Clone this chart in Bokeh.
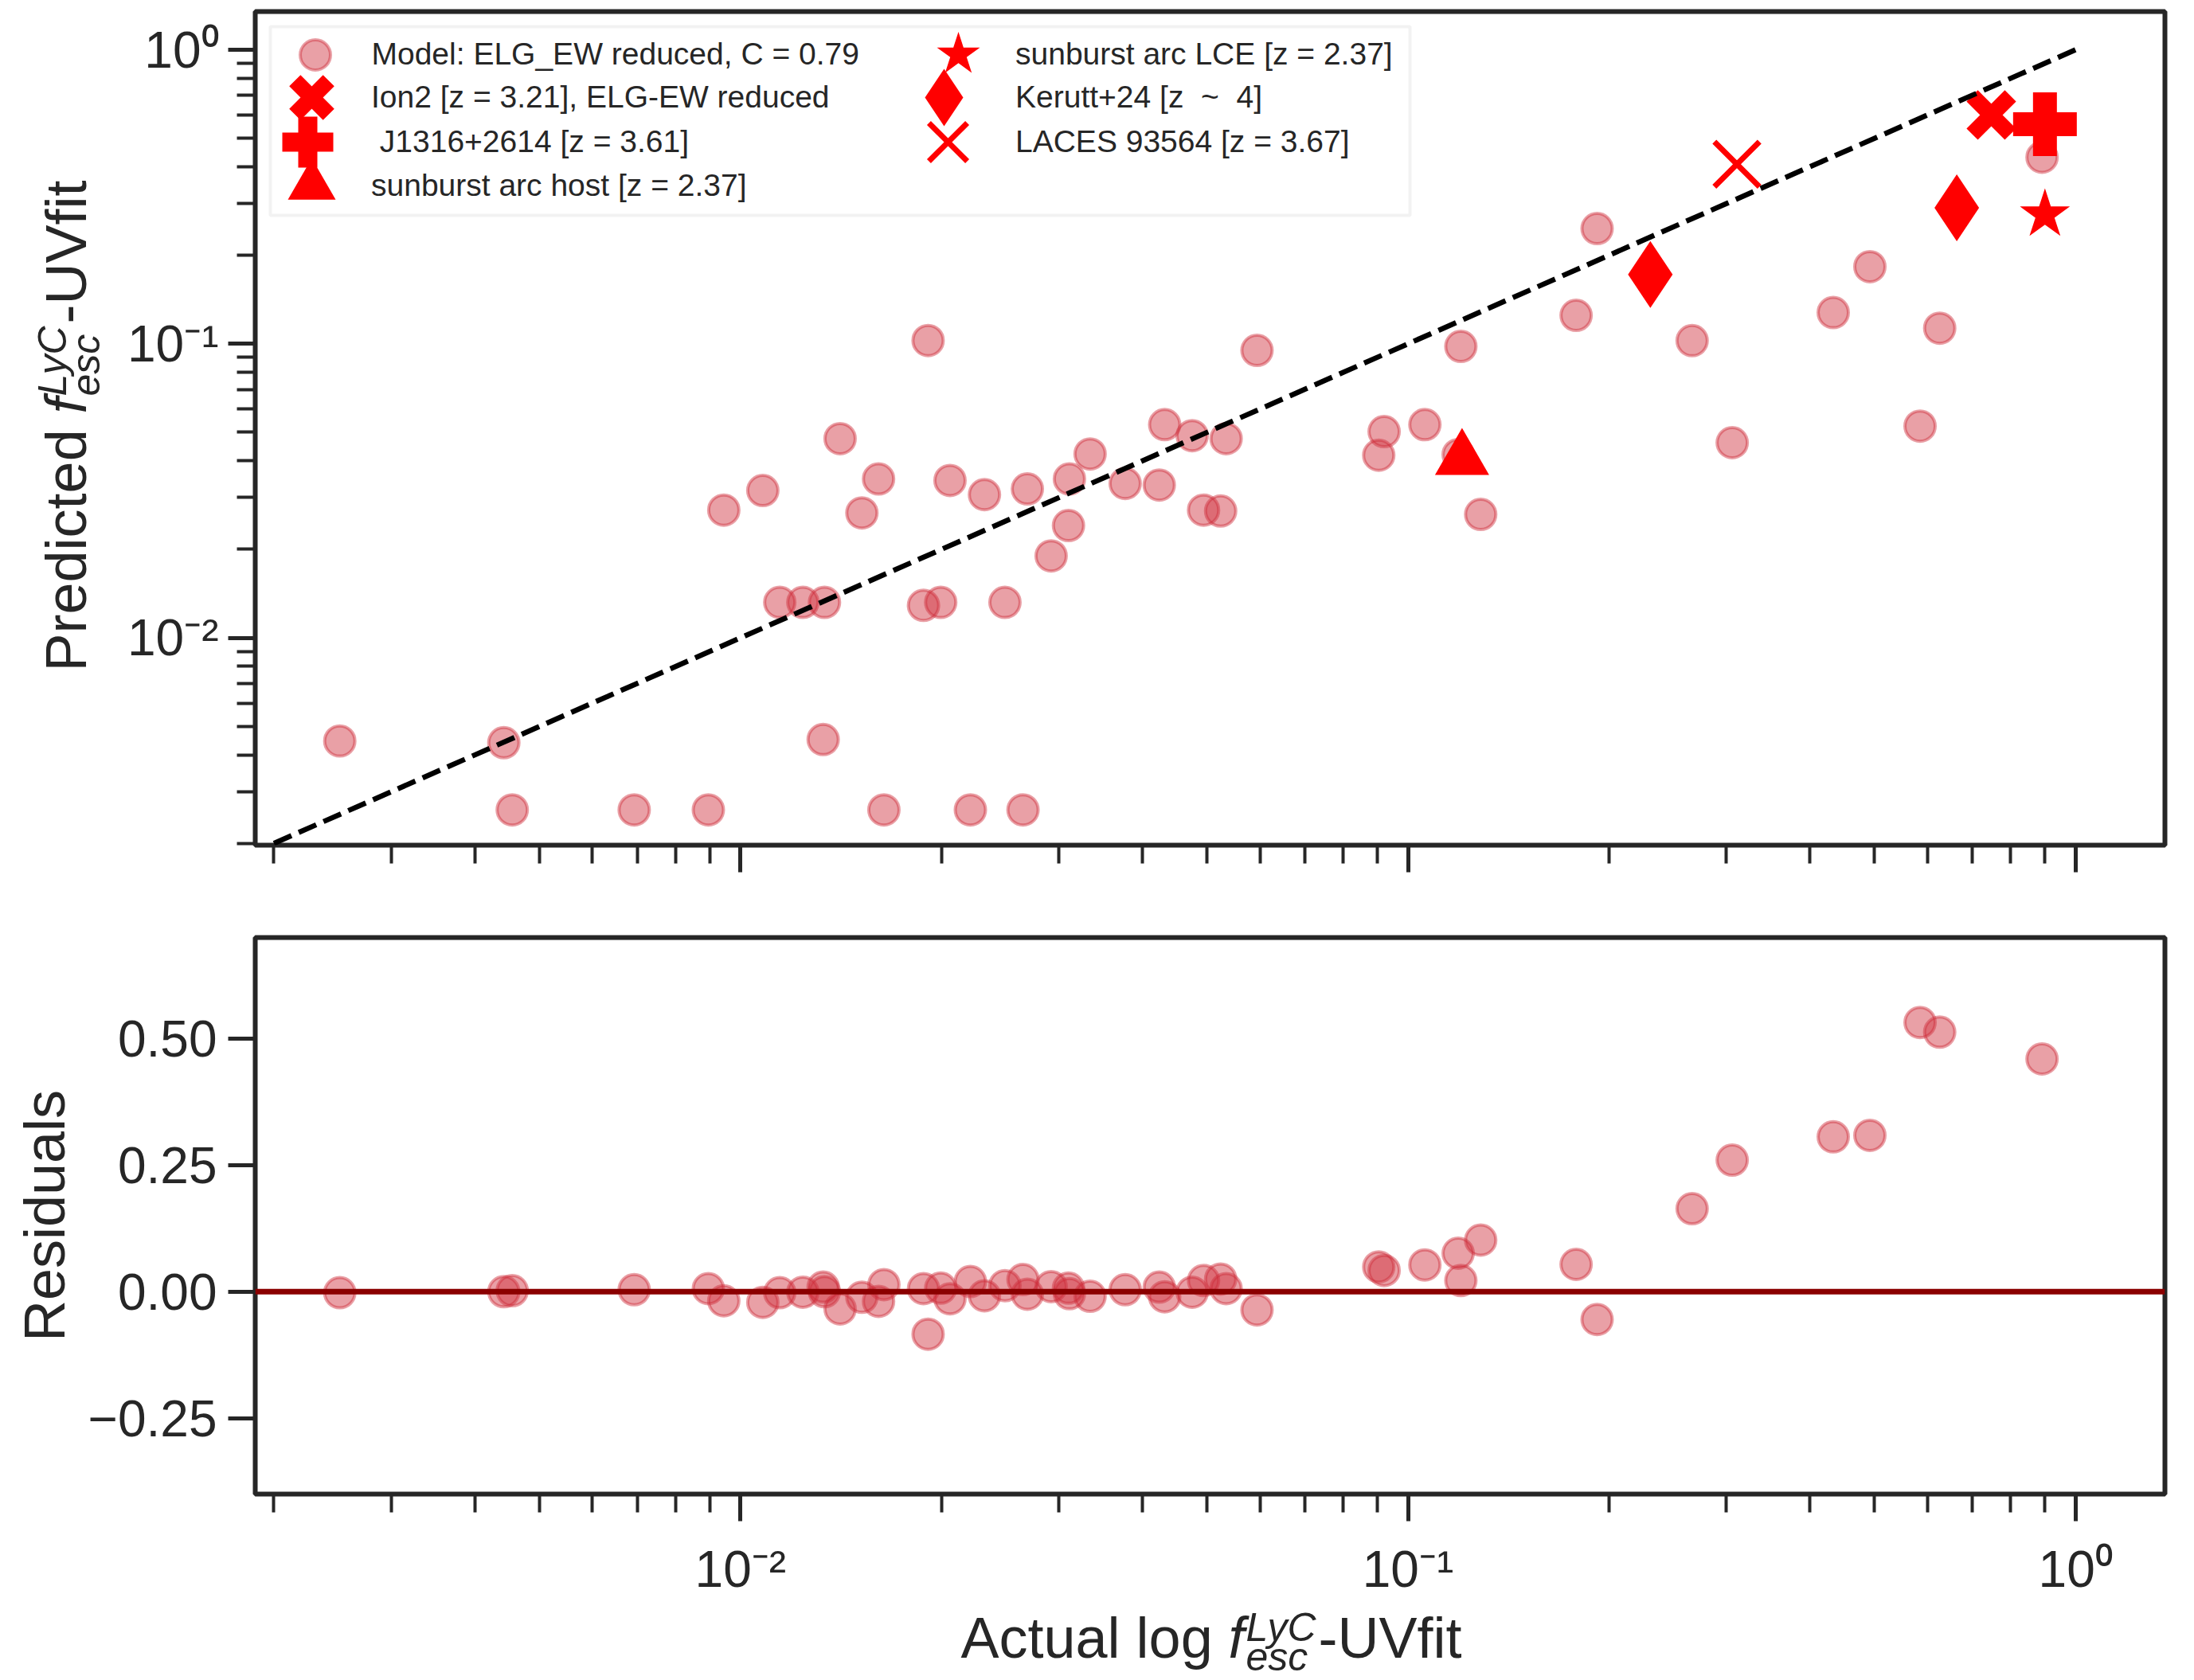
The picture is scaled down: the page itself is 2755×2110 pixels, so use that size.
import math
from bokeh.plotting import figure
from bokeh.layouts import column, row
from bokeh.core.properties import value
from bokeh.models import (Range1d, FixedTicker, CustomJSTickFormatter, Legend, LegendItem,
                          Span, ColumnDataSource, BoxAnnotation)
from bokeh.embed import file_html
from bokeh.resources import INLINE

# ---------------- data ----------------
actual = [0.00251, 0.00442, 0.00455, 0.00693, 0.00895, 0.00944, 0.0108, 0.01145, 0.0124, 0.01336,
          0.0133, 0.0141, 0.0152, 0.0161, 0.0164, 0.0188, 0.0191, 0.01995, 0.0206, 0.0221,
          0.0232, 0.0249, 0.0265, 0.0269, 0.0292, 0.0310, 0.0311, 0.0334, 0.0377, 0.0424,
          0.0432, 0.0475, 0.0494, 0.0524, 0.0534, 0.0594, 0.0904, 0.0921, 0.106, 0.1189,
          0.120, 0.1285, 0.1786, 0.192, 0.2665, 0.306, 0.4336, 0.492, 0.585, 0.626, 0.891]
predicted = [0.00446, 0.0044, 0.0026, 0.0026, 0.0026, 0.0272, 0.0317, 0.0132, 0.0132, 0.0132,
             0.00451, 0.0476, 0.0266, 0.0347, 0.0026, 0.0129, 0.1026, 0.0132, 0.0343, 0.0026,
             0.0307, 0.0132, 0.0026, 0.0321, 0.0190, 0.0241, 0.0347, 0.0422, 0.0335, 0.0331,
             0.0531, 0.0487, 0.0272, 0.0270, 0.0476, 0.095, 0.0418, 0.0503, 0.0531, 0.042,
             0.098, 0.0263, 0.125, 0.2466, 0.1025, 0.0461, 0.1277, 0.183, 0.0525, 0.113, 0.431]
residuals = [-0.002, 0.000, 0.002, 0.004, 0.006, -0.018, -0.021, -0.002, -0.001, 0.000,
             0.009, -0.034, -0.011, -0.019, 0.014, 0.006, -0.084, 0.007, -0.014, 0.020,
             -0.008, 0.012, 0.024, -0.005, 0.010, 0.007, -0.004, -0.009, 0.004, 0.009,
             -0.010, -0.001, 0.022, 0.025, 0.006, -0.036, 0.049, 0.042, 0.053, 0.076,
             0.022, 0.102, 0.054, -0.055, 0.164, 0.260, 0.306, 0.309, 0.532, 0.513, 0.460]

ion2_x, ion2_y = [0.748], [0.600]
j1316_x, j1316_y = [0.900], [0.558]
host_x, host_y = [0.1205], [0.0405]
lce_x, lce_y = [0.900], [0.275]
kerutt_x, kerutt_y = [0.2307, 0.664], [0.172, 0.290]
laces_x, laces_y = [0.311], [0.408]
one_to_one = [0.002, 1.0]

legend_labels = ["Model: ELG_EW reduced, C = 0.79",
                 "Ion2 [z = 3.21], ELG-EW reduced",
                 " J1316+2614 [z = 3.61]",
                 "sunburst arc host [z = 2.37]",
                 "sunburst arc LCE [z = 2.37]",
                 "Kerutt+24 [z  ~  4]",
                 "LACES 93564 [z = 3.67]"]
major_log_ticks = [0.01, 0.1, 1.0]
minor_log_ticks = [m * 10.0 ** e for e in (-3, -2, -1) for m in range(2, 10)]
resid_ticks = [-0.25, 0.0, 0.25, 0.5]

# ---------------- style ----------------
INK = "#262626"
FONT = "Liberation Sans"
PINK = "#CE2C39"
RED = "#FF0000"

LOGFMT = CustomJSTickFormatter(code="""
const e = Math.round(Math.log10(tick));
const m = {"-": "⁻", "0": "⁰", "1": "¹", "2": "²", "3": "³", "4": "⁴",
           "5": "⁵", "6": "⁶", "7": "⁷", "8": "⁸", "9": "⁹"};
return "10" + String(e).split("").map((c) => m[c]).join("");
""")
EMPTYFMT = CustomJSTickFormatter(code="return '';")
RESFMT = CustomJSTickFormatter(code="""
return (tick < 0 ? "−" : "") + Math.abs(tick).toFixed(2);
""")

PAGE_W, PAGE_H = 2755, 2110
FRAME_L, FRAME_W, FRAME_R_BORDER = 320, 2398, 37
TOP_H, TOP_FRAME_T, TOP_FRAME_H = 1120, 14, 1047
YLAB_W = 140
BOT_TOP, BOT_FRAME_H, BOT_BOTTOM = 57, 699, 140
MID = 0.35   # text anchor sits this many em above the baseline


def style(p):
    p.grid.visible = False
    p.background_fill_color = "white"
    p.border_fill_color = "white"
    p.outline_line_color = INK
    p.outline_line_width = 6
    for ax in (p.xaxis[0], p.yaxis[0]):
        ax.axis_line_color = None
        ax.major_tick_out = 34
        ax.major_tick_in = 0
        ax.major_tick_line_width = 5
        ax.major_tick_line_color = INK
        ax.minor_tick_out = 23
        ax.minor_tick_in = 0
        ax.minor_tick_line_width = 4
        ax.minor_tick_line_color = INK
        ax.major_label_text_font = FONT
        ax.major_label_text_font_size = "64px"
        ax.major_label_text_color = INK
        ax.major_label_standoff = 14


def blank(width, height, xr, yr):
    p = figure(width=width, height=height, x_range=xr, y_range=yr,
               min_border=0, x_axis_location=None, y_axis_location=None,
               output_backend="svg", toolbar_location=None)
    p.grid.visible = False
    p.outline_line_color = None
    p.background_fill_color = "white"
    p.border_fill_color = "white"
    return p


def put(p, text, x, y, size, angle=0.0, italic=False):
    p.text(x=[x], y=[y], text=[text], angle=angle, text_font=value(FONT),
           text_font_size=value(f"{size}px"), text_color=INK,
           text_font_style="italic" if italic else "normal",
           text_align="left", text_baseline="alphabetic")


x_range = Range1d(10 ** -2.727, 10 ** 0.134)

# ---------------- top panel ----------------
p1 = figure(x_axis_type="log", y_axis_type="log", x_range=x_range,
            y_range=Range1d(10 ** -2.705, 10 ** 0.13),
            frame_width=FRAME_W, frame_height=TOP_FRAME_H,
            min_border_left=FRAME_L - YLAB_W, min_border_right=FRAME_R_BORDER,
            min_border_top=TOP_FRAME_T, min_border_bottom=TOP_H - TOP_FRAME_T - TOP_FRAME_H,
            output_backend="svg", toolbar_location=None)
style(p1)
p1.xaxis[0].ticker = FixedTicker(ticks=major_log_ticks, minor_ticks=minor_log_ticks)
p1.yaxis[0].ticker = FixedTicker(ticks=major_log_ticks, minor_ticks=minor_log_ticks)
p1.xaxis[0].formatter = EMPTYFMT
p1.xaxis[0].major_label_text_font_size = "1px"
p1.xaxis[0].major_label_standoff = 0
p1.yaxis[0].formatter = LOGFMT
p1.yaxis[0].major_label_standoff = 12

src = ColumnDataSource(dict(actual=actual, predicted=predicted, residuals=residuals))
r_model = p1.scatter("actual", "predicted", source=src, marker="circle", size=38,
                     fill_color=PINK, fill_alpha=0.45, line_color=PINK, line_alpha=0.45, line_width=4)
r_ion2 = p1.scatter(ion2_x, ion2_y, marker="x", size=68, line_color=RED, line_width=20)
r_j1316 = p1.scatter(j1316_x, j1316_y, marker="plus", size=80, fill_color=RED, line_color=None)
r_host = p1.scatter(host_x, host_y, marker="triangle", size=68, fill_color=RED, line_color=None)
r_lce = p1.scatter(lce_x, lce_y, marker="star", size=66, fill_color=RED, line_color=None)
r_ker = p1.scatter(kerutt_x, kerutt_y, marker="diamond", size=84, fill_color=RED, line_color=None)
r_laces = p1.scatter(laces_x, laces_y, marker="x", size=80, line_color=RED, line_width=7)
p1.line(one_to_one, one_to_one, line_color="black", line_width=6.5, line_dash="24 10")

# legend frame (p1 canvas starts YLAB_W px right of the page edge)
p1.add_layout(BoxAnnotation(left=339 - YLAB_W, right=1770 - YLAB_W, top=33, bottom=270,
                            left_units="canvas", right_units="canvas",
                            top_units="canvas", bottom_units="canvas",
                            fill_color="white", fill_alpha=0.8,
                            line_color="#D5D5D5", line_width=4))
renderers = [r_model, r_ion2, r_j1316, r_host, r_lce, r_ker, r_laces]
# (glyph box, text start x, row centre y) in page pixels
entries = [(95, 466, 68), (150, 466, 122), (160, 466, 178), (150, 466, 233),
           (142, 1275, 68), (180, 1275, 122), (170, 1275, 178)]
frame_bottom = TOP_FRAME_T + TOP_FRAME_H
for lab, r, (w, tx, cy) in zip(legend_labels, renderers, entries):
    cx = 395 if tx < 1000 else 1203
    standoff = tx - cx - w / 2
    if standoff < 0:
        cx = tx - w / 2
        standoff = 0
    p1.add_layout(Legend(items=[LegendItem(label=lab, renderers=[r])],
                         location=(cx - w / 2 - FRAME_L, frame_bottom - (cy + w / 2)),
                         glyph_width=w, glyph_height=w, label_standoff=int(round(standoff)),
                         padding=0, margin=0, spacing=0,
                         label_text_font=FONT, label_text_font_size="39px", label_text_color=INK,
                         border_line_color=None, background_fill_alpha=0.0))

# y label strip: Predicted f_esc^LyC-UVfit (rotated). Data coords = page pixels.
ylab = blank(YLAB_W, TOP_H, Range1d(0, YLAB_W),
             Range1d(TOP_FRAME_T + TOP_FRAME_H, TOP_FRAME_T))
A = math.pi / 2
put(ylab, "Predicted ", 108 - MID * 72, 843, 72, angle=A)
put(ylab, "f", 108 - MID * 72, 519, 72, angle=A, italic=True)
put(ylab, "LyC", 83 - MID * 50, 497, 50, angle=A, italic=True)
put(ylab, "esc", 125 - MID * 50, 497, 50, angle=A, italic=True)
put(ylab, "-UVfit", 108 - MID * 72, 406, 72, angle=A)

# ---------------- bottom panel ----------------
p2 = figure(x_axis_type="log", x_range=x_range, y_range=Range1d(-0.40, 0.70),
            frame_width=FRAME_W, frame_height=BOT_FRAME_H,
            min_border_left=FRAME_L, min_border_right=FRAME_R_BORDER,
            min_border_top=BOT_TOP, min_border_bottom=BOT_BOTTOM,
            output_backend="svg", toolbar_location=None)
style(p2)
p2.xaxis[0].ticker = FixedTicker(ticks=major_log_ticks, minor_ticks=minor_log_ticks)
p2.xaxis[0].formatter = LOGFMT
p2.xaxis[0].major_label_standoff = 24
p2.yaxis[0].ticker = FixedTicker(ticks=resid_ticks)
p2.yaxis[0].formatter = RESFMT
p2.yaxis[0].minor_tick_line_color = None
p2.yaxis[0].axis_label = "Residuals"
p2.yaxis[0].axis_label_text_font = FONT
p2.yaxis[0].axis_label_text_font_size = "72px"
p2.yaxis[0].axis_label_text_font_style = "normal"
p2.yaxis[0].axis_label_text_color = INK
p2.yaxis[0].axis_label_standoff = 12

p2.scatter("actual", "residuals", source=src, marker="circle", size=38,
           fill_color=PINK, fill_alpha=0.45, line_color=PINK, line_alpha=0.45, line_width=4)
p2.add_layout(Span(location=0, dimension="width", line_color="#8B0000", line_width=7))

# x label strip: Actual log f_esc^LyC-UVfit. Its frame lines up with the panels' frames.
strip_top = TOP_H + BOT_TOP + BOT_FRAME_H + BOT_BOTTOM
XLAB_H = PAGE_H - strip_top
xlab = blank(PAGE_W, XLAB_H, Range1d(FRAME_L, FRAME_L + FRAME_W), Range1d(PAGE_H, strip_top))
base = 2082
put(xlab, "Actual log ", 1206, base - MID * 72, 72)
put(xlab, "f", 1542, base - MID * 72, 72, italic=True)
put(xlab, "LyC", 1564, base - 21 - MID * 50, 50, italic=True)
put(xlab, "esc", 1564, base + 16 - MID * 50, 50, italic=True)
put(xlab, "-UVfit", 1655, base - MID * 72, 72)

layout = column(row(ylab, p1, spacing=0), p2, xlab, spacing=0)
open("out.html", "w", encoding="utf-8").write(file_html(layout, INLINE))
